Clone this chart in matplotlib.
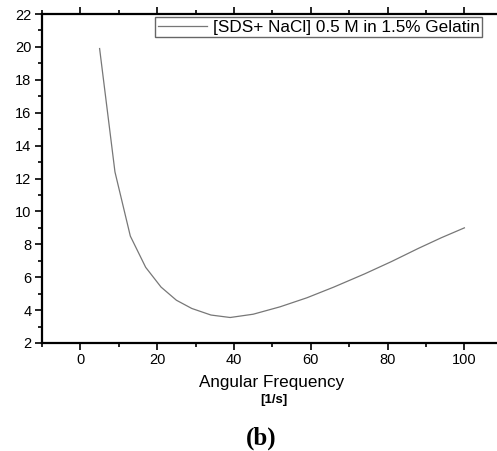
import matplotlib
matplotlib.use("Agg")
import matplotlib.pyplot as plt
from matplotlib.ticker import MultipleLocator

freq = [5, 9, 13, 17, 21, 25, 29, 34, 39, 45, 52, 59, 66, 74, 81, 88, 94, 100]
visc = [19.9, 12.4, 8.5, 6.6, 5.4, 4.6, 4.1, 3.7, 3.55, 3.75, 4.2, 4.75, 5.4, 6.2, 6.95, 7.75, 8.4, 9.0]
series_label = "[SDS+ NaCl] 0.5 M in 1.5% Gelatin"
xlabel = "Angular Frequency"
unit = "[1/s]"
caption = "(b)"

plt.rcParams['font.family'] = ['Liberation Sans', 'DejaVu Sans']
fig = plt.figure(figsize=(4.97, 4.51), dpi=100)
W, H = 497, 451
AW, AH = 460.8, 329
ax = fig.add_axes([42 / W, (H - 343) / H, AW / W, AH / H])
ax.plot(freq, visc, color='#777777', lw=0.9, label=series_label)
ax.set_xlim(-10, 110)
ax.set_ylim(2, 22)
ax.xaxis.set_major_locator(MultipleLocator(20))
ax.xaxis.set_minor_locator(MultipleLocator(10))
ax.yaxis.set_major_locator(MultipleLocator(2))
ax.yaxis.set_minor_locator(MultipleLocator(1))
for s in ['left', 'bottom', 'top', 'right']:
    ax.spines[s].set_linewidth(1.6)
ax.tick_params(which='both', direction='out', top=True, labeltop=False, width=1.2, labelsize=10.5, pad=2.5)
ax.tick_params(which='major', length=5)
ax.tick_params(which='minor', length=3)
fig.text(272 / W, 1 - 383 / H, xlabel, ha='center', va='center', fontsize=12.3)
fig.text(274 / W, 1 - 400 / H, unit, ha='center', va='center', fontsize=9.5, fontweight='bold')
fig.text(261 / W, 1 - 438 / H, caption, ha='center', va='center', fontsize=18, fontweight='bold',
         family=['Liberation Serif', 'DejaVu Serif'])
leg = ax.legend(loc='upper right', bbox_to_anchor=((482 - 42) / AW, 1 - 3 / AH), fontsize=12.3,
                fancybox=False, framealpha=1, edgecolor='#666666', borderpad=0.15,
                handlelength=2.9, handletextpad=0.3, borderaxespad=0)
leg.get_frame().set_linewidth(1.0)
fig.savefig("out.png", dpi=100)
